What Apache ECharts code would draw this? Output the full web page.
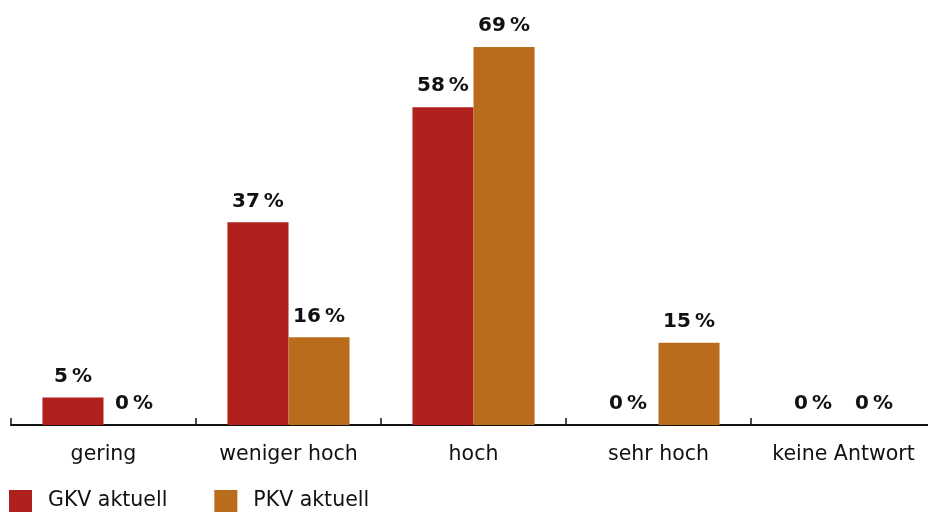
<!DOCTYPE html>
<html><head><meta charset="utf-8">
<script src="https://cdn.jsdelivr.net/npm/echarts@6/dist/echarts.min.js"></script>
<style>html,body{margin:0;padding:0;background:#fff}#c{width:928px;height:512px}</style>
</head><body><div id="c"></div>
<script>
const categories = ['gering', 'weniger hoch', 'hoch', 'sehr hoch', 'keine Antwort'];
const gkv = [5, 37, 58, 0, 0];
const pkv = [0, 16, 69, 15, 0];
const seriesNames = ['GKV aktuell', 'PKV aktuell'];
const colors = ['#B0201C', '#B86C1C'];
const FONT = '"DejaVu Sans"';

const chart = echarts.init(document.getElementById('c'), null, {renderer: 'canvas'});
const label = {
  show: true, position: 'top', distance: 11,
  formatter: p => p.value + '\u2009%',
  color: '#111', fontWeight: 'bold', fontSize: 20, fontFamily: FONT
};
chart.setOption({
  animation: false,
  grid: {left: 11, width: 925, top: 47, bottom: 87, containLabel: false, outerBoundsMode: 'none'},
  legend: {
    left: 4, top: 485, itemWidth: 23, itemHeight: 22, itemGap: 47, icon: 'rect',
    textStyle: {fontFamily: FONT, fontSize: 20.5, color: '#111', padding: [0, 0, 0, 11]},
    data: seriesNames
  },
  xAxis: {
    type: 'category', data: categories,
    axisLine: {lineStyle: {color: '#111', width: 2}},
    axisTick: {show: true, interval: 0, inside: true, length: 7, lineStyle: {color: '#111', width: 1.5}},
    axisLabel: {interval: 0, hideOverlap: false, fontFamily: FONT, fontSize: 20.5, color: '#111', margin: 19}
  },
  yAxis: {type: 'value', min: 0, max: 69, show: false},
  series: [
    {name: seriesNames[0], type: 'bar', data: gkv, itemStyle: {color: colors[0]}, barGap: '0%', barCategoryGap: '34%', label},
    {name: seriesNames[1], type: 'bar', data: pkv, itemStyle: {color: colors[1]}, barGap: '0%', barCategoryGap: '34%', label}
  ]
});
</script></body></html>
